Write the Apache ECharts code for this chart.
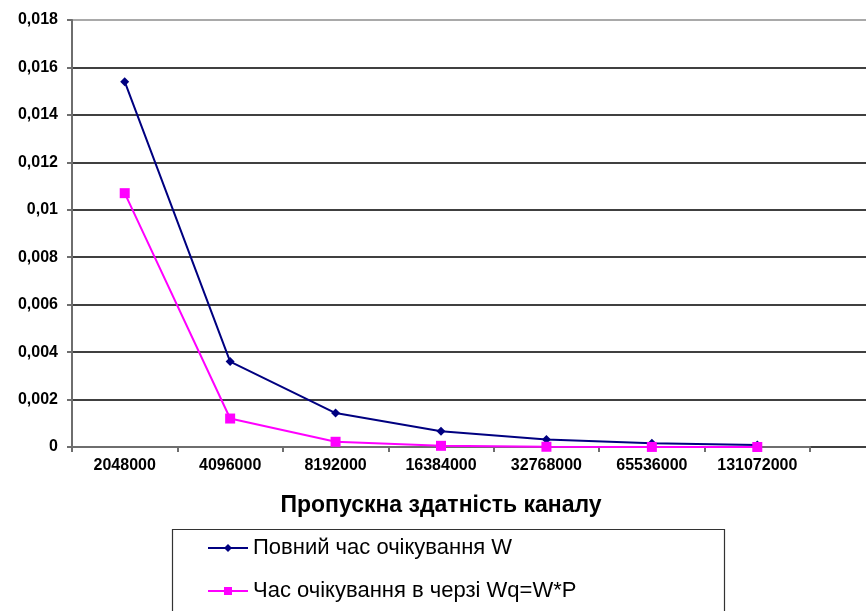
<!DOCTYPE html>
<html>
<head>
<meta charset="utf-8">
<script src="https://cdn.jsdelivr.net/npm/echarts@6/dist/echarts.min.js"></script>
<style>
  html, body { margin: 0; padding: 0; background: #fff; }
  #chart { width: 866px; height: 611px; }
</style>
</head>
<body>
<div id="chart"></div>
<script>
// Channel capacity (bit/s) on the category axis
const capacities = ['2048000', '4096000', '8192000', '16384000', '32768000', '65536000', '131072000'];
// Total waiting time W
const totalWait = [0.0154, 0.0036, 0.00143, 0.00066, 0.00032, 0.00016, 0.00008];
// Queue waiting time Wq = W*P
const queueWait = [0.0107, 0.0012, 0.00022, 0.00005, 0.00001, 0.000003, 0.000001];
// Value axis range
const yMin = 0, yMax = 0.018, yStep = 0.002;

const seriesNames = ['Повний час очікування W', 'Час очікування в черзі Wq=W*P'];
const axisName = 'Пропускна здатність каналу';

const chart = echarts.init(document.getElementById('chart'), null, { renderer: 'canvas' });

// gridline colours: black, the top border line is grey
const gridColors = [];
for (let v = yMin; v <= yMax + 1e-9; v += yStep) gridColors.push('#000000');
gridColors[gridColors.length - 1] = '#8c8c8c';

const FONT = 'Liberation Sans, Arial, sans-serif';

const legendBase = {
  orient: 'vertical',
  left: 207,
  padding: 0,
  itemWidth: 40,
  itemHeight: 10,
  itemGap: 0,
  textStyle: { color: '#000', fontFamily: FONT, fontSize: 22, lineHeight: 24 }
};

const option = {
  backgroundColor: '#ffffff',
  animation: false,
  grid: [
    // full-width background grid for the horizontal gridlines
    { left: 72, right: 0, top: 20, height: 427 },
    // plotting grid
    { left: 72, right: 56, top: 20, height: 427 }
  ],
  // legend frame, open to the bottom of the canvas
  graphic: [{
    type: 'rect',
    left: 170, top: 527,
    shape: { width: 552, height: 120 },
    style: { fill: 'none', stroke: '#333', lineWidth: 1.2 },
    z: 0
  }],
  xAxis: [
    { gridIndex: 0, type: 'category', data: capacities, show: false },
    {
      gridIndex: 1,
      type: 'category',
      data: capacities,
      axisLine: { show: true, lineStyle: { color: '#6e6e6e', width: 2 } },
      axisTick: { show: true, length: 5, lineStyle: { color: '#6e6e6e', width: 2 } },
      axisLabel: {
        color: '#000',
        fontFamily: FONT,
        fontWeight: 'bold',
        fontSize: 16,
        margin: 11
      },
      splitLine: { show: false },
      name: axisName,
      nameLocation: 'middle',
      nameGap: 47,
      nameTextStyle: {
        color: '#000',
        fontFamily: FONT,
        fontWeight: 'bold',
        fontSize: 23
      }
    }
  ],
  yAxis: [
    {
      gridIndex: 0,
      type: 'value',
      min: yMin, max: yMax, interval: yStep,
      axisLine: { show: false },
      axisTick: { show: false },
      axisLabel: { show: false },
      splitLine: { show: true, lineStyle: { color: gridColors, width: 1.5 } }
    },
    {
      gridIndex: 1,
      type: 'value',
      min: yMin, max: yMax, interval: yStep,
      axisLine: { show: true, lineStyle: { color: '#6e6e6e', width: 2 } },
      axisTick: { show: true, length: 5, lineStyle: { color: '#6e6e6e', width: 2 } },
      splitLine: { show: false },
      axisLabel: {
        color: '#000',
        fontFamily: FONT,
        fontWeight: 'bold',
        fontSize: 16,
        margin: 14,
        formatter: v => String(+v.toFixed(4)).replace('.', ',')
      }
    }
  ],
  legend: [
    Object.assign({}, legendBase, { top: 536, data: [seriesNames[0]] }),
    Object.assign({}, legendBase, { top: 579, data: [seriesNames[1]] })
  ],
  series: [
    {
      name: seriesNames[0],
      type: 'line',
      xAxisIndex: 1, yAxisIndex: 1,
      data: totalWait,
      symbol: 'diamond',
      symbolSize: 9,
      lineStyle: { color: '#000080', width: 2 },
      itemStyle: { color: '#000080' }
    },
    {
      name: seriesNames[1],
      type: 'line',
      xAxisIndex: 1, yAxisIndex: 1,
      data: queueWait,
      symbol: 'rect',
      symbolSize: 10,
      lineStyle: { color: '#ff00ff', width: 2 },
      itemStyle: { color: '#ff00ff' }
    }
  ]
};

chart.setOption(option);
</script>
</body>
</html>
